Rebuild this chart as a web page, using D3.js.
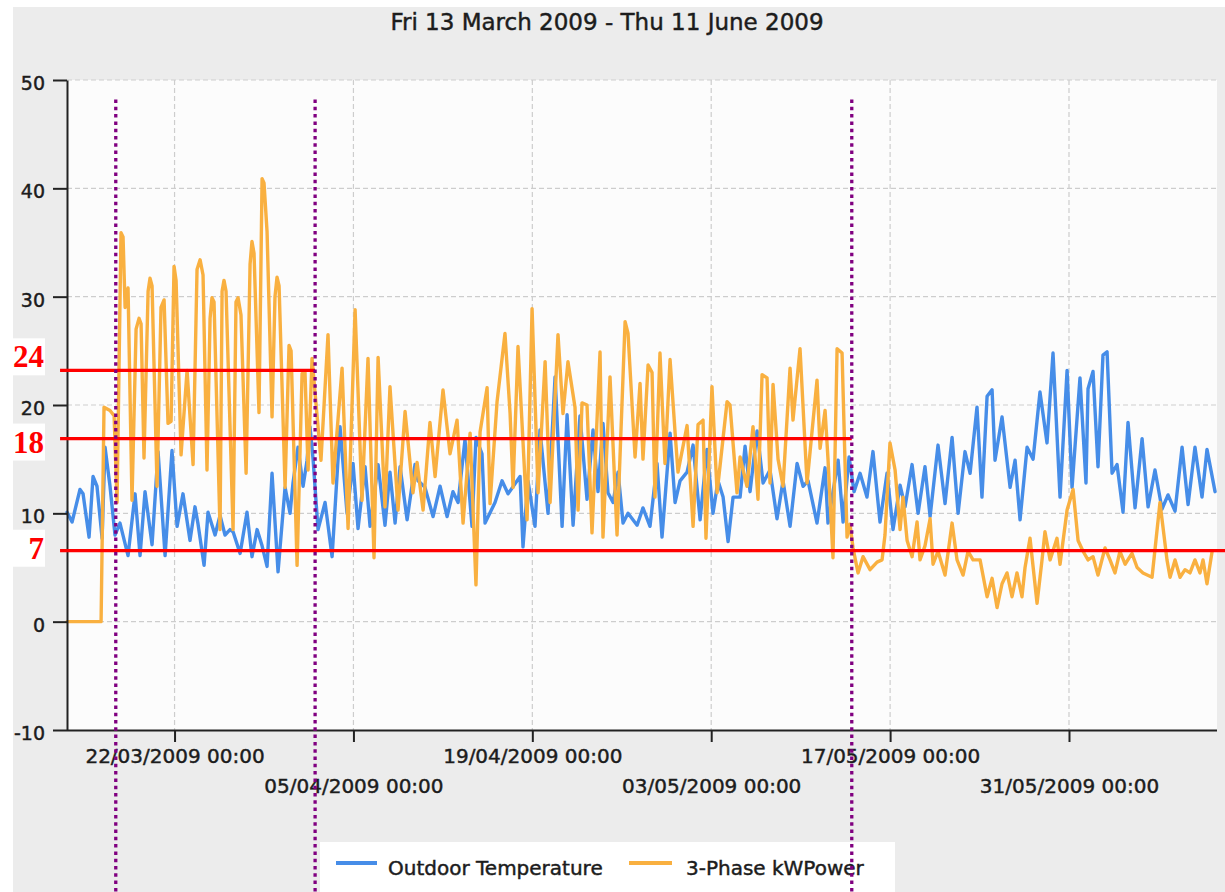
<!DOCTYPE html>
<html><head><meta charset="utf-8">
<script src="https://cdn.jsdelivr.net/npm/d3@7"></script>
<style>html,body{margin:0;padding:0;background:#fff;} svg{display:block}</style>
</head><body>
<svg id="chart" width="1225" height="892"></svg>
<script>
// ---------- data ----------
const chartTitle = "Fri 13 March 2009 - Thu 11 June 2009";
const seriesNames = ["Outdoor Temperature", "3-Phase kWPower"];
const periodStart = "2009-03-13T00:00:00Z";      // day offsets below count from here
const domainStart = "2009-03-13T14:00:00Z";
const domainEnd   = "2009-06-11T14:00:00Z";
const xTickDates  = ["2009-03-22","2009-04-05","2009-04-19","2009-05-03","2009-05-17","2009-05-31"];
const yTicks      = [-10, 0, 10, 20, 30, 40, 50];

// [day offset, °C]
const temperature = [[0.59,10.1],[0.98,9.2],[1.60,12.2],[1.84,11.8],[2.31,7.8],[2.62,13.4],[2.93,12.5],[3.33,7.7],[3.56,16.1],[3.95,12.5],[4.34,8.0],[4.73,9.1],[5.36,6.1],[5.91,11.8],[6.30,6.1],[6.69,12.0],[7.24,7.1],[7.71,15.7],[8.26,6.1],[8.80,15.8],[9.20,8.8],[9.66,11.8],[10.21,7.5],[10.60,10.6],[10.84,9.0],[11.31,5.2],[11.62,10.1],[12.17,8.0],[12.56,9.8],[12.95,8.0],[13.34,8.5],[13.58,8.3],[14.13,6.3],[14.67,10.1],[15.06,6.0],[15.46,8.5],[15.85,7.0],[16.24,5.1],[16.63,13.7],[17.10,4.6],[17.65,12.4],[18.04,10.0],[18.27,12.8],[18.66,16.1],[19.06,12.5],[19.37,14.9],[19.60,18.0],[19.84,15.0],[20.23,8.5],[20.78,11.0],[21.33,6.0],[21.95,18.0],[22.50,10.0],[22.97,14.6],[23.36,8.6],[23.91,14.3],[24.30,8.8],[24.93,14.5],[25.47,8.9],[25.86,13.8],[26.26,9.1],[26.65,14.3],[27.20,9.4],[27.82,14.5],[28.06,13.0],[28.60,12.4],[29.23,9.7],[29.78,12.5],[30.33,9.7],[30.79,12.0],[31.19,11.0],[31.73,16.8],[32.28,8.8],[32.59,17.0],[33.06,15.5],[33.30,9.1],[34.08,11.0],[34.63,13.0],[35.10,11.8],[36.04,13.4],[36.27,6.9],[36.66,13.0],[37.21,8.8],[37.60,17.7],[38.23,10.0],[38.78,22.6],[39.33,8.8],[39.72,19.1],[40.19,8.9],[40.73,19.0],[41.28,11.3],[41.75,17.7],[42.14,12.0],[42.53,18.3],[42.92,11.9],[43.32,11.0],[43.71,13.8],[44.10,9.1],[44.49,10.0],[45.20,8.9],[45.66,10.5],[46.21,8.8],[46.76,14.6],[47.15,7.8],[47.78,17.4],[48.17,11.0],[48.56,13.0],[49.11,13.8],[49.58,16.3],[50.13,9.4],[50.67,15.9],[51.14,10.0],[51.53,13.0],[51.93,11.5],[52.32,7.4],[52.71,11.5],[53.26,11.5],[53.65,16.2],[54.04,12.0],[54.59,17.6],[55.06,12.8],[55.60,14.0],[56.15,9.5],[56.62,13.0],[57.17,8.8],[57.72,14.6],[58.19,12.5],[58.58,13.0],[59.28,9.1],[59.91,14.2],[60.14,9.1],[60.93,14.9],[61.32,9.2],[61.79,15.2],[62.18,12.0],[62.65,13.7],[63.19,11.5],[63.66,15.7],[64.21,9.2],[64.76,13.7],[65.23,8.5],[65.78,12.6],[66.17,10.6],[66.72,14.5],[67.19,10.0],[67.73,14.3],[68.13,9.7],[68.75,16.3],[69.30,10.9],[69.85,17.0],[70.32,10.0],[70.86,15.7],[71.26,13.7],[71.80,19.8],[72.19,11.5],[72.59,20.8],[72.98,21.4],[73.21,14.9],[73.76,18.9],[74.39,12.4],[74.78,14.9],[75.17,9.4],[75.72,16.1],[76.19,15.0],[76.73,21.2],[77.28,16.5],[77.75,24.8],[78.30,11.5],[78.85,23.2],[79.24,12.4],[79.86,22.5],[80.33,12.8],[80.49,21.5],[80.88,23.1],[81.27,14.3],[81.66,24.6],[81.98,24.9],[82.37,13.7],[82.76,14.5],[83.23,10.1],[83.62,18.4],[84.17,10.5],[84.72,16.9],[85.19,10.6],[85.73,14.0],[86.28,10.4],[86.75,11.7],[87.30,10.2],[87.85,16.1],[88.32,10.8],[88.86,16.1],[89.41,11.5],[89.80,15.9],[90.43,12.0]];

// [day offset, kW]
const power = [[0.59,0],[3.25,0],[3.48,19.8],[3.95,19.5],[4.27,19.0],[4.50,11.0],[4.81,35.9],[4.97,35.5],[5.13,29.0],[5.36,30.8],[5.67,11.2],[5.99,27.0],[6.22,28.0],[6.38,27.5],[6.61,15.1],[6.93,30.5],[7.08,31.7],[7.24,31.0],[7.63,12.5],[7.94,29.0],[8.18,29.7],[8.49,18.3],[8.73,18.5],[8.96,32.8],[9.12,31.5],[9.51,15.4],[9.98,23.2],[10.45,14.5],[10.76,32.5],[11.00,33.4],[11.23,32.0],[11.54,14.0],[11.78,28.0],[11.93,29.9],[12.09,29.5],[12.56,8.5],[12.72,30.5],[12.87,31.5],[13.03,30.5],[13.58,8.5],[13.81,29.5],[13.97,29.9],[14.20,28.3],[14.60,13.7],[14.91,33.0],[15.06,35.1],[15.22,34.0],[15.61,19.3],[15.85,40.9],[16.00,40.5],[16.24,36.0],[16.63,18.9],[16.86,30.0],[17.02,31.8],[17.18,31.0],[17.65,12.4],[17.96,25.5],[18.12,25.0],[18.59,5.2],[18.98,22.9],[19.21,23.0],[19.45,14.0],[19.76,24.3],[20.46,14.9],[21.01,26.5],[21.40,12.8],[22.11,23.4],[22.58,8.6],[23.13,28.8],[23.67,11.2],[24.14,24.3],[24.61,5.9],[24.93,24.4],[25.47,10.6],[25.86,21.7],[26.49,10.3],[27.04,19.4],[27.66,11.9],[27.98,14.7],[28.45,10.3],[28.99,18.4],[29.39,13.4],[30.01,21.4],[30.56,15.5],[31.11,18.6],[31.58,9.1],[32.13,17.4],[32.59,3.4],[32.91,17.5],[33.46,21.6],[33.69,10.9],[34.24,20.3],[34.86,26.6],[35.26,19.2],[35.49,12.4],[35.88,25.4],[36.59,9.4],[36.98,28.9],[37.45,11.9],[38.00,24.0],[38.39,11.0],[39.01,26.5],[39.40,19.2],[39.79,24.0],[40.34,19.8],[40.58,10.3],[40.89,20.2],[41.28,20.0],[41.67,8.2],[42.30,24.9],[42.53,7.8],[43.08,22.6],[43.63,8.0],[44.26,27.7],[44.49,26.6],[45.04,15.2],[45.43,22.0],[45.66,15.0],[46.06,23.7],[46.37,23.0],[46.60,11.5],[46.99,24.8],[47.38,14.6],[47.78,24.2],[48.17,17.5],[48.40,13.8],[49.11,18.1],[49.58,8.8],[49.97,18.2],[50.36,18.6],[50.59,7.7],[51.06,21.7],[51.46,11.9],[52.24,20.3],[52.47,20.0],[53.02,11.9],[53.26,15.2],[53.80,12.5],[54.27,18.0],[54.66,11.3],[54.98,22.8],[55.37,22.5],[55.60,12.8],[55.84,21.9],[56.23,15.0],[56.62,12.5],[57.17,23.4],[57.40,18.6],[57.95,25.2],[58.50,12.8],[59.28,22.3],[59.52,16.0],[59.91,19.5],[60.14,15.0],[60.53,5.9],[60.85,25.2],[61.24,24.8],[61.63,7.8],[61.86,9.0],[62.10,6.8],[62.49,4.5],[62.88,6.0],[63.43,4.8],[63.98,5.5],[64.37,5.7],[64.60,8.0],[64.99,16.5],[65.39,14.0],[65.78,8.5],[66.01,11.5],[66.33,7.5],[66.72,6.0],[67.11,9.2],[67.34,5.7],[67.73,7.0],[68.13,9.5],[68.36,5.3],[68.75,6.5],[69.30,4.3],[69.85,9.1],[70.24,5.7],[70.71,4.3],[71.10,6.5],[71.49,5.7],[72.04,5.7],[72.59,2.3],[72.98,4.0],[73.37,1.3],[73.76,3.5],[74.15,4.5],[74.54,2.3],[74.93,4.5],[75.32,2.3],[75.56,5.0],[75.95,7.7],[76.50,1.7],[76.89,5.7],[77.12,8.3],[77.52,5.7],[78.06,7.7],[78.30,5.3],[78.85,10.3],[79.32,12.2],[79.71,7.5],[80.10,6.5],[80.49,5.7],[80.88,6.0],[81.27,4.3],[81.82,6.8],[82.21,5.7],[82.60,4.5],[82.99,6.5],[83.39,5.3],[83.93,6.3],[84.33,5.0],[84.79,4.5],[85.50,4.1],[86.12,11.0],[86.67,5.7],[86.91,4.1],[87.30,5.7],[87.69,4.1],[88.08,4.8],[88.47,4.5],[88.86,5.7],[89.25,4.5],[89.49,5.7],[89.80,3.5],[90.19,6.4]];

// annotations (day offsets and values)
const markerDays  = [4.40, 20.0, 62.0];
const markerTop   = 48.2;
const refLabels   = ["24", "18", "7"];
const refValues   = [23.2, 16.9, 6.55];
const refStartDay = [0.04, 0.04, 0.04];
const refEndDay   = [20.0, 62.0, 91.3];

// ---------- drawing ----------
const W = 1225, H = 892;
const M = {left: 67, right: 1217, top: 80, bottom: 730};
const svg = d3.select("#chart");
const t0 = Date.parse(periodStart);
const toDate = d => new Date(t0 + d * 864e5);

const x = d3.scaleUtc().domain([new Date(domainStart), new Date(domainEnd)]).range([M.left, M.right]);
const y = d3.scaleLinear().domain([-10, 50]).range([M.bottom, M.top]);

const FONT = "'DejaVu Sans', Verdana, sans-serif";
const INK = "#1c1c1c";
const thicken = sel => sel.attr("stroke", INK).attr("stroke-width", 0.45).attr("paint-order", "stroke");

// panel background
svg.append("rect").attr("x", 13).attr("y", 7).attr("width", W - 13).attr("height", H - 7).attr("fill", "#ececec");
svg.append("rect").attr("x", M.left).attr("y", M.top).attr("width", M.right - M.left).attr("height", M.bottom - M.top).attr("fill", "#fcfcfc");

// title
svg.append("text").attr("x", 607).attr("y", 30).attr("text-anchor", "middle")
  .attr("font-family", FONT).attr("font-size", 23).attr("fill", INK).text(chartTitle).call(thicken);

// grid
const tickDates = xTickDates.map(s => new Date(s + "T00:00:00Z"));
const grid = svg.append("g").attr("stroke", "#cdcdcd").attr("stroke-width", 1.2).attr("stroke-dasharray", "5,3");
grid.selectAll("line.h").data(yTicks.filter(v => v > -10)).join("line")
  .attr("x1", M.left).attr("x2", M.right).attr("y1", d => y(d)).attr("y2", d => y(d));
grid.selectAll("line.v").data(tickDates).join("line").attr("class", "v")
  .attr("x1", d => x(d)).attr("x2", d => x(d)).attr("y1", M.top).attr("y2", M.bottom);

// series
const line = d3.line().x(d => x(toDate(d[0]))).y(d => y(d[1]));
const colors = ["#468de8", "#f9b040"];
[temperature, power].forEach((s, i) => {
  svg.append("path").datum(s).attr("d", line).attr("fill", "none")
    .attr("stroke", colors[i]).attr("stroke-width", 3.4).attr("stroke-linejoin", "round").attr("stroke-linecap", "round");
});

// axes
const xAxis = d3.axisBottom(x).tickValues(tickDates).tickFormat(d3.utcFormat("%d/%m/%Y %H:%M"))
  .tickSize(12).tickSizeOuter(0).tickPadding(7);
const gx = svg.append("g").attr("transform", `translate(0,${M.bottom})`).call(xAxis);
gx.selectAll("text").attr("font-family", FONT).attr("font-size", 20).attr("fill", INK)
  .attr("transform", (d, i) => i % 2 ? "translate(0,30)" : null).call(thicken);
const yAxis = d3.axisLeft(y).tickValues(yTicks).tickFormat(d => String(d)).tickSize(14).tickSizeOuter(0).tickPadding(8);
const gy = svg.append("g").attr("transform", `translate(${M.left},0)`).call(yAxis);
gy.selectAll("text").attr("font-family", FONT).attr("font-size", 19).attr("fill", INK).attr("dy", "0.5em").call(thicken);
[gx, gy].forEach(g => {
  g.select(".domain").attr("stroke", "#222").attr("stroke-width", 2);
  g.selectAll(".tick line").attr("stroke", "#222").attr("stroke-width", 2);
});
gx.select(".domain").attr("d", `M${M.left},0.5H${M.right}`);

// legend
const lg = svg.append("g");
lg.append("rect").attr("x", 320).attr("y", 842).attr("width", 575).attr("height", 60).attr("fill", "#fff");
const legendX = [[336, 377, 388], [629, 672, 686]];
seriesNames.forEach((n, i) => {
  lg.append("line").attr("x1", legendX[i][0]).attr("x2", legendX[i][1]).attr("y1", 863).attr("y2", 863)
    .attr("stroke", colors[i]).attr("stroke-width", 4);
  lg.append("text").attr("x", legendX[i][2]).attr("y", 875).attr("font-family", FONT)
    .attr("font-size", 20).attr("fill", INK).text(n).call(thicken);
});

// red reference lines with labels
const labelShift = [-3, 14, 8];
refValues.forEach((v, i) => {
  svg.append("line").attr("x1", x(toDate(refStartDay[i]))).attr("x2", x(toDate(refEndDay[i])))
    .attr("y1", y(v)).attr("y2", y(v)).attr("stroke", "#ff0000").attr("stroke-width", 3.2);
  const base = y(v) + labelShift[i];
  svg.append("rect").attr("x", 13).attr("y", base - 29).attr("width", 32).attr("height", 37).attr("fill", "#fff");
  svg.append("text").attr("x", 44).attr("y", base).attr("text-anchor", "end")
    .attr("font-family", "'Liberation Serif', 'Times New Roman', serif").attr("font-weight", "bold")
    .attr("font-size", 31).attr("fill", "#ff0000").text(refLabels[i]);
});

// purple dotted markers
svg.selectAll("line.marker").data(markerDays).join("line").attr("class", "marker")
  .attr("x1", d => x(toDate(d))).attr("x2", d => x(toDate(d)))
  .attr("y1", y(markerTop)).attr("y2", H)
  .attr("stroke", "#800080").attr("stroke-width", 3.3).attr("stroke-dasharray", "3.5,3.8");
</script>
</body></html>
